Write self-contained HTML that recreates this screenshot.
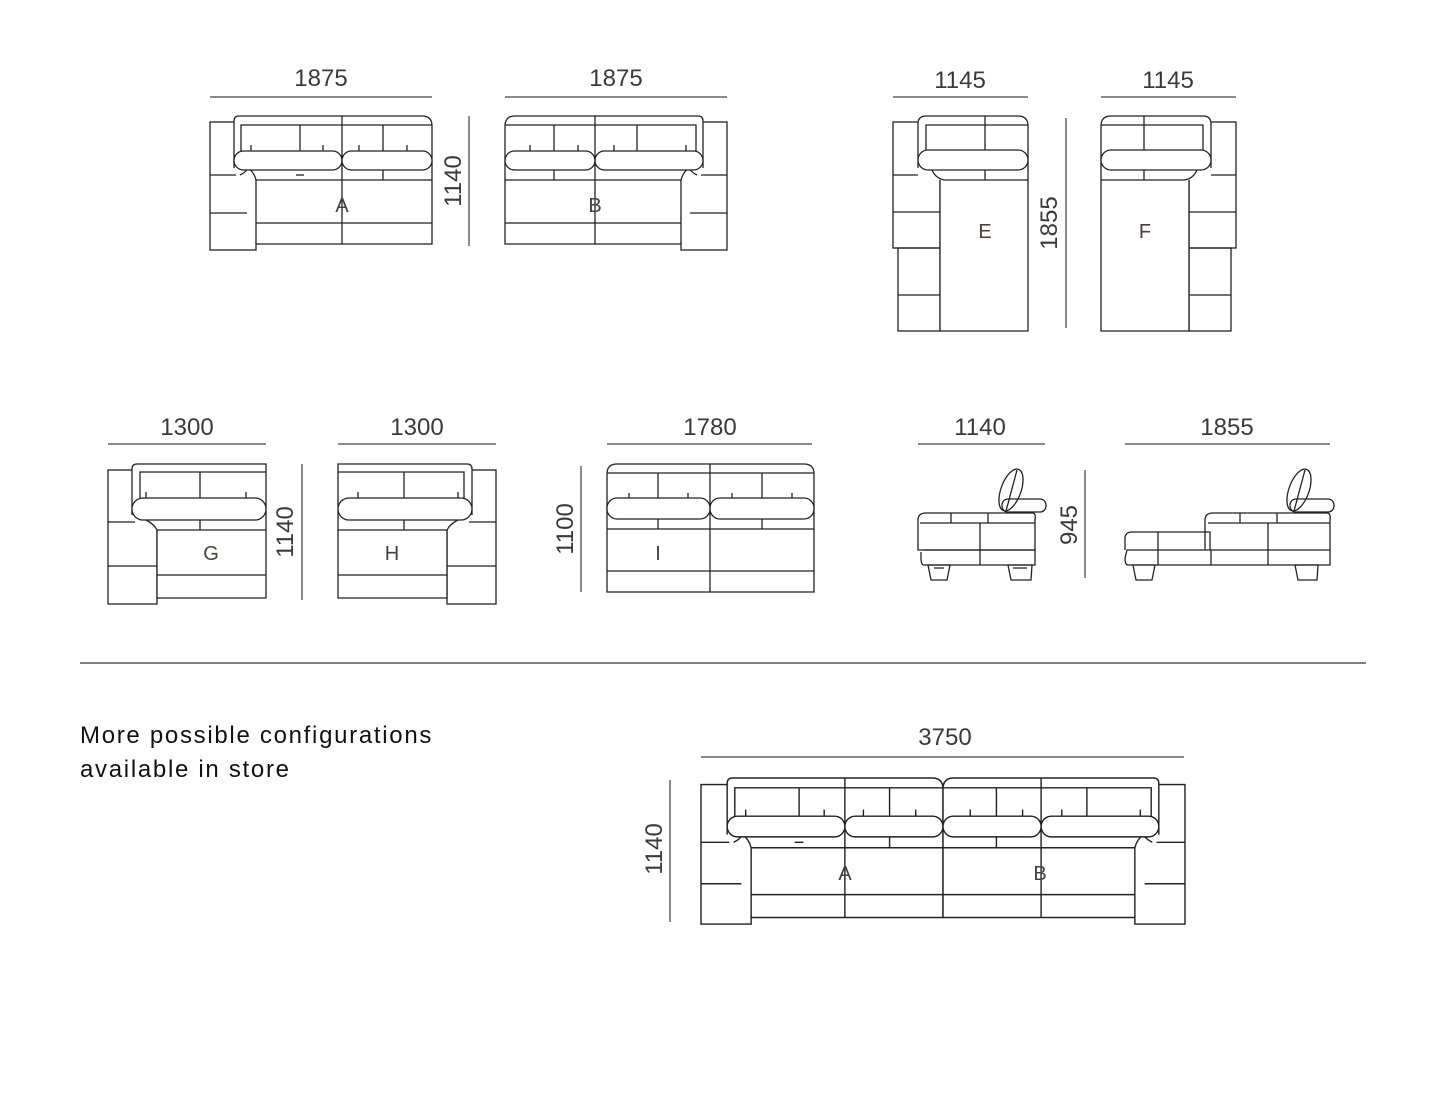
<!DOCTYPE html>
<html><head><meta charset="utf-8"><style>
html,body{margin:0;padding:0;background:#fff;}
svg{display:block}
.d{font-family:"Liberation Sans",sans-serif;font-size:24px;fill:#3a3a3a;}
.l{font-family:"Liberation Sans",sans-serif;font-size:20px;fill:#4a3f3a;}
.s{fill:none;stroke:#222;stroke-width:1.3}
.dim{stroke:#8a8a8a;stroke-width:2}
.t{font-family:"Liberation Sans",sans-serif;font-size:24px;fill:#111;font-weight:500;letter-spacing:1.7px}
</style></head><body>
<svg width="1445" height="1113" viewBox="0 0 1445 1113" xmlns="http://www.w3.org/2000/svg">
<defs>
<g id="A0" class="s">
  <rect x="210" y="122" width="46" height="128"/>
  <line x1="210" y1="175" x2="240" y2="175"/>
  <line x1="210" y1="213" x2="256" y2="213"/>
  <path d="M234,168 L234,121 Q234,116 239,116 L422,116 Q432,116 432,126 L432,244 L256,244" fill="#fff"/>
  <path d="M241,158 L241,125 L432,125"/>
  <line x1="300" y1="125" x2="300" y2="162"/>
  <line x1="342" y1="116" x2="342" y2="244"/>
  <line x1="383" y1="125" x2="383" y2="180"/>
  <line x1="251" y1="145" x2="251" y2="151"/><line x1="323" y1="145" x2="323" y2="151"/>
  <line x1="359" y1="145" x2="359" y2="151"/><line x1="407" y1="145" x2="407" y2="151"/>
  <path d="M240,175 Q246,172 248,168 Q254,172 256,180 L432,180"/>
  <line x1="256" y1="180" x2="256" y2="244"/>
  <line x1="256" y1="223" x2="432" y2="223"/>
  <rect x="234" y="151" width="108" height="19" rx="9.5" fill="#fff"/>
  <rect x="342" y="151" width="90" height="19" rx="9.5" fill="#fff"/>
</g>
<g id="A">
  <use href="#A0"/>
  <line class="s" x1="296" y1="175" x2="304" y2="175"/>
</g>
<g id="E" class="s">
  <rect x="893" y="122" width="47" height="126"/>
  <line x1="893" y1="175" x2="918" y2="175"/>
  <line x1="893" y1="212" x2="940" y2="212"/>
  <rect x="898" y="248" width="42" height="83"/>
  <line x1="898" y1="295" x2="1028" y2="295"/>
  <path d="M918,168 L918,124 Q918,116 926,116 L1018,116 Q1028,116 1028,126 L1028,331 L940,331 L940,180" fill="#fff"/>
  <path d="M926,158 L926,125 L1028,125"/>
  <line x1="985" y1="116" x2="985" y2="180"/>
  <path d="M932,170 Q936,179 945,180 L1028,180"/>
  <rect x="918" y="150" width="110" height="20" rx="10" fill="#fff"/>
</g>
<g id="G" class="s">
  <rect x="108" y="470" width="49" height="134"/>
  <line x1="108" y1="522" x2="135" y2="522"/>
  <line x1="108" y1="566" x2="157" y2="566"/>
  <path d="M132,515 L132,469 Q132,464 137,464 L266,464 L266,598 L157,598 L157,530" fill="#fff"/>
  <path d="M140,505 L140,472 L266,472"/>
  <line x1="200" y1="472" x2="200" y2="498"/>
  <line x1="200" y1="520" x2="200" y2="530"/>
  <line x1="146" y1="492" x2="146" y2="498"/><line x1="246" y1="492" x2="246" y2="498"/>
  <path d="M146,520 Q154,524 157,530 L266,530"/>
  <line x1="157" y1="575" x2="266" y2="575"/>
  <rect x="132" y="498" width="134" height="22" rx="11" fill="#fff"/>
</g>
</defs>

<line class="dim" x1="210" y1="97" x2="432" y2="97"/>
<text class="d" x="321" y="86" text-anchor="middle">1875</text>
<use href="#A"/>
<text class="l" x="342" y="212" text-anchor="middle">A</text>
<line class="dim" x1="469" y1="116" x2="469" y2="246"/>
<text class="d" transform="translate(461,181) rotate(-90)" text-anchor="middle">1140</text>

<line class="dim" x1="505" y1="97" x2="727" y2="97"/>
<text class="d" x="616" y="86" text-anchor="middle">1875</text>
<use href="#A0" transform="translate(937,0) scale(-1,1)"/>
<text class="l" x="595" y="212" text-anchor="middle">B</text>

<line class="dim" x1="893" y1="97" x2="1028" y2="97"/>
<text class="d" x="960" y="88" text-anchor="middle">1145</text>
<use href="#E"/>
<text class="l" x="985" y="238" text-anchor="middle">E</text>
<line class="dim" x1="1066" y1="118" x2="1066" y2="328"/>
<text class="d" transform="translate(1057,223) rotate(-90)" text-anchor="middle">1855</text>

<line class="dim" x1="1101" y1="97" x2="1236" y2="97"/>
<text class="d" x="1168" y="88" text-anchor="middle">1145</text>
<use href="#E" transform="translate(2129,0) scale(-1,1)"/>
<text class="l" x="1145" y="238" text-anchor="middle">F</text>

<line class="dim" x1="108" y1="444" x2="266" y2="444"/>
<text class="d" x="187" y="435" text-anchor="middle">1300</text>
<use href="#G"/>
<text class="l" x="211" y="560" text-anchor="middle">G</text>
<line class="dim" x1="302" y1="464" x2="302" y2="600"/>
<text class="d" transform="translate(293,532) rotate(-90)" text-anchor="middle">1140</text>

<line class="dim" x1="338" y1="444" x2="496" y2="444"/>
<text class="d" x="417" y="435" text-anchor="middle">1300</text>
<use href="#G" transform="translate(604,0) scale(-1,1)"/>
<text class="l" x="392" y="560" text-anchor="middle">H</text>

<line class="dim" x1="607" y1="444" x2="812" y2="444"/>
<text class="d" x="710" y="435" text-anchor="middle">1780</text>
<line class="dim" x1="581" y1="466" x2="581" y2="592"/>
<text class="d" transform="translate(573,529) rotate(-90)" text-anchor="middle">1100</text>
<g class="s">
  <path d="M607,520 L607,474 Q607,464 617,464 L804,464 Q814,464 814,474 L814,592 L607,592 L607,520"/>
  <line x1="607" y1="473" x2="814" y2="473"/>
  <line x1="658" y1="473" x2="658" y2="498"/><line x1="762" y1="473" x2="762" y2="498"/>
  <line x1="658" y1="519" x2="658" y2="529"/><line x1="762" y1="519" x2="762" y2="529"/>
  <line x1="710" y1="464" x2="710" y2="592"/>
  <line x1="629" y1="493" x2="629" y2="498"/><line x1="688" y1="493" x2="688" y2="498"/>
  <line x1="732" y1="493" x2="732" y2="498"/><line x1="792" y1="493" x2="792" y2="498"/>
  <line x1="607" y1="529" x2="814" y2="529"/>
  <line x1="607" y1="571" x2="814" y2="571"/>
  <rect x="607" y="498" width="103" height="21" rx="10" fill="#fff"/>
  <rect x="710" y="498" width="104" height="21" rx="10" fill="#fff"/>
</g>
<text class="l" x="658" y="560" text-anchor="middle">I</text>

<line class="dim" x1="918" y1="444" x2="1045" y2="444"/>
<text class="d" x="980" y="435" text-anchor="middle">1140</text>
<line class="dim" x1="1085" y1="470" x2="1085" y2="578"/>
<text class="d" transform="translate(1077,525) rotate(-90)" text-anchor="middle">945</text>
<g class="s">
  <path d="M918,550 L918,520 Q918,513 926,513 L1033,513 Q1036,513 1035,520 L1035,550 Z"/>
  <path d="M920,523 L1035,523"/>
  <line x1="951" y1="513" x2="951" y2="523"/><line x1="988" y1="513" x2="988" y2="523"/>
  <line x1="980" y1="523" x2="980" y2="565"/>
  <path d="M924,550 L1035,550 L1035,565 L924,565 Q921,565 921,558 L921,552"/>
  <path d="M928,565 L950,565 L947,580 L931,580 Z"/>
  <path d="M1008,565 L1032,565 L1031,580 L1011,580 Z"/>
  <path d="M934,568 L944,568 M1013,568 L1027,568"/>
  <rect x="1002" y="499" width="44" height="13" rx="6" fill="#fff"/>
  <ellipse cx="1011" cy="490" rx="10" ry="22" transform="rotate(20 1011 490)" fill="none"/>
  <line x1="1006" y1="511" x2="1017" y2="470"/>
</g>

<line class="dim" x1="1125" y1="444" x2="1330" y2="444"/>
<text class="d" x="1227" y="435" text-anchor="middle">1855</text>
<g class="s">
  <path d="M1125,550 L1125,537 Q1126,532 1132,532 L1210,532 L1210,550"/>
  <line x1="1158" y1="532" x2="1158" y2="565"/>
  <path d="M1205,550 L1205,520 Q1205,513 1213,513 L1327,513 Q1331,513 1330,520 L1330,550"/>
  <line x1="1208" y1="523" x2="1330" y2="523"/>
  <line x1="1240" y1="513" x2="1240" y2="523"/><line x1="1277" y1="513" x2="1277" y2="523"/>
  <line x1="1268" y1="523" x2="1268" y2="565"/>
  <line x1="1211" y1="550" x2="1211" y2="565"/>
  <path d="M1127,550 L1330,550 L1330,565 L1128,565 Q1125,565 1125,558 Z"/>
  <path d="M1133,565 L1155,565 L1152,580 L1136,580 Z"/>
  <path d="M1295,565 L1318,565 L1317,580 L1298,580 Z"/>
  <rect x="1290" y="499" width="44" height="13" rx="6" fill="#fff"/>
  <ellipse cx="1299" cy="490" rx="10" ry="22" transform="rotate(20 1299 490)" fill="none"/>
  <line x1="1294" y1="511" x2="1305" y2="470"/>
</g>

<line x1="80" y1="663" x2="1366" y2="663" stroke="#333" stroke-width="1.3"/>
<text class="t" x="80" y="743">More possible configurations</text>
<text class="t" x="80" y="777">available in store</text>

<line class="dim" x1="701" y1="757" x2="1184" y2="757"/>
<text class="d" x="945" y="745" text-anchor="middle">3750</text>
<line class="dim" x1="670" y1="780" x2="670" y2="922"/>
<text class="d" transform="translate(662,849) rotate(-90)" text-anchor="middle">1140</text>
<use href="#A" transform="translate(701,778) scale(1.09) translate(-210,-116)"/>
<use href="#A0" transform="translate(943,778) scale(1.09) translate(-505,-116) translate(937,0) scale(-1,1)"/>
<text class="l" x="845" y="880" text-anchor="middle">A</text>
<text class="l" x="1040" y="880" text-anchor="middle">B</text>
</svg>
</body></html>
